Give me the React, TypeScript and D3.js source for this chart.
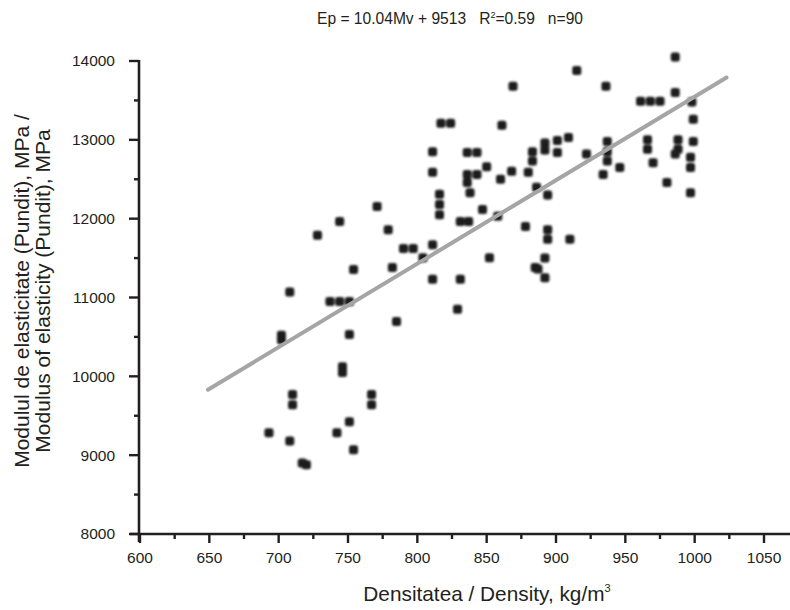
import React from "react";
import * as d3 from "d3";

// density (kg/m3) and Pundit modulus (MPa)
const density = [
  986, 915, 869, 936, 961, 968, 975, 986, 998, 817,
  824, 861, 999, 909, 901, 901, 892, 892, 883, 883,
  937, 937, 937, 966, 966, 988, 988, 986, 999, 997,
  997, 970, 946, 934, 980, 997, 922, 811, 811, 836,
  843, 850, 836, 836, 843, 838, 860, 868, 880, 886,
  894, 816, 816, 816, 771, 847, 858, 831, 837, 779,
  790, 797, 811, 804, 878, 894, 894, 910, 852, 782,
  885, 887, 892, 892, 811, 831, 829, 785, 744, 728,
  754, 708, 737, 744, 751, 702, 702, 751, 746, 746,
  710, 710, 767, 767, 693, 742, 751, 708, 754, 717,
  720,
];
const modulus = [
  14050, 13880, 13680, 13680, 13490, 13490, 13490, 13600, 13480, 13210,
  13210, 13185, 13260, 13030, 12990, 12840, 12960, 12870, 12850, 12730,
  12980, 12850, 12730, 13000, 12880, 13000, 12880, 12820, 12980, 12780,
  12650, 12710, 12650, 12560, 12460, 12330, 12820, 12850, 12590, 12840,
  12840, 12660, 12560, 12460, 12560, 12330, 12500, 12600, 12590, 12400,
  12300, 12310, 12180, 12050, 12155, 12115, 12030, 11965, 11965, 11860,
  11620, 11620, 11670, 11505, 11900, 11860, 11740, 11740, 11505, 11380,
  11380, 11360, 11500, 11250, 11230, 11230, 10850, 10695, 11965, 11790,
  11355, 11070, 10950, 10950, 10950, 10465, 10520, 10530, 10050, 10120,
  9770, 9640, 9770, 9640, 9285, 9285, 9425, 9180, 9070, 8900,
  8880,
];

// end points of the fitted line as drawn
const trendX = [649, 1023];
const trendY = [9830, 13790];

const xTicks = [600, 650, 700, 750, 800, 850, 900, 950, 1000, 1050];
const xMinor = [625, 675, 725, 775, 825, 875, 925, 975, 1025];
const yTicks = [8000, 9000, 10000, 11000, 12000, 13000, 14000];
const yMinor = [8500, 9500, 10500, 11500, 12500, 13500];

const width = 790;
const height = 610;
const axisColor = "#231f20";
const font = "'Liberation Sans', Arial, sans-serif";

const App = () => {
  const x = d3.scaleLinear().domain([600, 1050]).range([140, 764]);
  const y = d3.scaleLinear().domain([8000, 14000]).range([534, 61]);
  const x0 = 139;
  const y0 = 534;

  const line = d3.line<number>()
    .x(d => x(d))
    .y((d, i) => y(trendY[i]));

  return (
    <svg width={width} height={height}
      style={{ position: "absolute", left: 0, top: 0, background: "#fff" }}
      fontFamily={font} fill={axisColor}>
      <defs>
        <filter id="soft" x="-50%" y="-50%" width="200%" height="200%">
          <feGaussianBlur stdDeviation={0.8} />
        </filter>
      </defs>

      <text x={450} y={24} textAnchor="middle" fontSize={15.6} xmlSpace="preserve">
        <tspan>{"Ep = 10.04Mv + 9513   R"}</tspan>
        <tspan dy={-6} fontSize={9}>2</tspan>
        <tspan dy={6}>{"=0.59   n=90"}</tspan>
      </text>

      <g filter="url(#soft)">
        {density.map((d, i) => (
          <rect key={i} x={x(d) - 4.5} y={y(modulus[i]) - 4.5} width={9} height={9} rx={2.5} fill="#1b1b1b" />
        ))}
      </g>

      <path d={line(trendX) || ""} fill="none" stroke="#a5a5a5" strokeWidth={4} strokeLinecap="round" />

      {/* x axis */}
      <line x1={130} x2={790} y1={y0} y2={y0} stroke={axisColor} strokeWidth={2.6} />
      {xTicks.map(t => (
        <g key={t} transform={`translate(${x(t)},${y0})`}>
          <line y2={9} stroke={axisColor} strokeWidth={2.4} />
          <text y={29} textAnchor="middle" fontSize={15.5}>{t}</text>
        </g>
      ))}
      {xMinor.map(t => (
        <line key={t} x1={x(t)} x2={x(t)} y1={y0} y2={y0 + 5} stroke={axisColor} strokeWidth={2.4} />
      ))}

      {/* y axis */}
      <line x1={x0} x2={x0} y1={60} y2={542} stroke={axisColor} strokeWidth={2.6} />
      {yTicks.map(t => (
        <g key={t} transform={`translate(${x0},${y(t)})`}>
          <line x2={-10} stroke={axisColor} strokeWidth={2.4} />
          <text x={-24} dy="0.35em" textAnchor="end" fontSize={15.5}>{t}</text>
        </g>
      ))}
      {yMinor.map(t => (
        <line key={t} x1={x0} x2={x0 - 5} y1={y(t)} y2={y(t)} stroke={axisColor} strokeWidth={2.4} />
      ))}

      <text x={487} y={601} textAnchor="middle" fontSize={20.8}>
        <tspan>Densitatea / Density, kg/m</tspan>
        <tspan dy={-9} fontSize={11}>3</tspan>
      </text>

      <text transform="translate(29,291) rotate(-90)" textAnchor="middle" fontSize={21}>
        <tspan x={0} dy={0}>Modulul de elasticitate (Pundit), MPa /</tspan>
        <tspan x={0} dy={21}>Modulus of elasticity (Pundit), MPa</tspan>
      </text>
    </svg>
  );
};

export default App;
